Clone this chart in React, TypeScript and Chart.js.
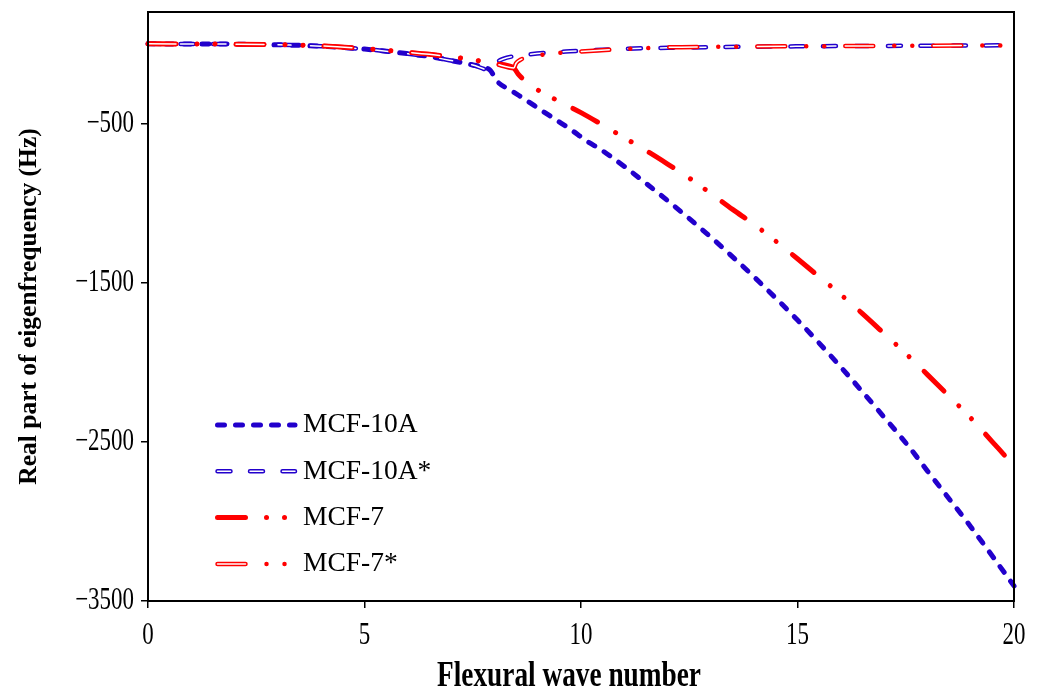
import React, { useEffect, useRef } from 'react';
import { Chart, registerables } from 'chart.js';

Chart.register(...registerables);

const BLUE = '#2200cc';
const RED = '#ff0000';

const seriesLabels = ['MCF-10A', 'MCF-10A*', 'MCF-7', 'MCF-7*'];
const xTitle = 'Flexural wave number';
const yTitle = 'Real part of eigenfrequency (Hz)';
const xTicks = [0, 5, 10, 15, 20];
const yTicks = [-3500, -2500, -1500, -500];

const k10A = [0, 1, 2, 3, 4, 5, 6, 6.5, 7, 7.5, 7.9, 8.05, 8.4, 8.75, 9.1, 9.45, 9.8, 10.1, 10.5, 11, 11.5, 12, 13, 14, 15, 15.5, 16, 17, 17.6, 18, 19, 20];
const mcf10A = [0, -1, -2, -6, -15, -33, -62, -80, -105, -133, -165, -232, -295, -357, -420, -482, -545, -605, -672, -770, -876, -985, -1215, -1465, -1735, -1880, -2030, -2345, -2540, -2683, -3033, -3405];

const k10AStar = [0, 1, 2, 3, 4, 5, 6, 6.5, 7, 7.5, 7.9, 7.95, 8.05, 8.2, 8.4, 8.8, 9.2, 9.75, 10.5, 11, 12, 13, 14, 16, 18, 20];
const mcf10AStar = [0, -1, -2, -6, -15, -33, -62, -80, -105, -133, -165, -140, -115, -95, -80, -66, -56, -47, -37, -31, -25, -21, -18, -14, -12, -9];

const k7 = [0, 1, 2, 3, 4, 5, 6, 6.5, 7, 7.5, 8, 8.45, 8.55, 8.7, 9, 9.5, 10, 10.5, 11, 11.5, 12, 12.5, 13, 13.5, 14, 14.5, 15, 15.5, 16, 16.5, 17, 17.5, 18, 18.5, 19, 19.5, 20];
const mcf7 = [0, -1, -2, -5, -13, -30, -53, -66, -82, -100, -125, -152, -190, -230, -289, -362, -432, -510, -590, -670, -755, -843, -940, -1040, -1135, -1240, -1350, -1463, -1575, -1695, -1820, -1945, -2078, -2213, -2350, -2500, -2650];

const k7Star = [0, 1, 2, 3, 4, 5, 6, 6.5, 7, 7.5, 8, 8.45, 8.5, 8.6, 8.75, 9.1, 9.5, 10, 10.7, 11.5, 12, 13, 14, 16, 18, 20];
const mcf7Star = [0, -1, -2, -5, -13, -30, -53, -66, -82, -100, -125, -152, -122, -100, -86, -69, -57, -48, -37, -27, -22, -19, -17, -14, -12, -10];

const toPts = (xs: number[], ys: number[]) => xs.map((x, i) => ({ x, y: ys[i] }));

const DASH_10A = [7, 11];
const DASH_10A_STAR = [13, 19.5];
const DASH_7 = [28, 21, 0.01, 18, 0.01, 21];
const DASH_7_INNER = [28, 60.02];

const fmt = (v: number) => (v < 0 ? '\u2212' + Math.abs(v) : String(v));

function drawScaledText(ctx: CanvasRenderingContext2D, text: string, x: number, y: number, font: string, sx: number, align: CanvasTextAlign, rot = 0) {
  ctx.save();
  ctx.translate(x, y);
  if (rot) ctx.rotate(rot);
  ctx.scale(sx, 1);
  ctx.font = font;
  ctx.fillStyle = '#000';
  ctx.textAlign = align;
  ctx.textBaseline = 'middle';
  ctx.fillText(text, 0, 0);
  ctx.restore();
}

const decorPlugin = {
  id: 'decor',
  afterDraw(chart: any) {
    const ctx: CanvasRenderingContext2D = chart.ctx;
    const { left, right, top, bottom } = chart.chartArea;
    ctx.save();
    ctx.strokeStyle = '#000';
    ctx.lineWidth = 2;
    ctx.strokeRect(left, top, right - left, bottom - top);
    ctx.restore();

    const xs = chart.scales.x;
    const ys = chart.scales.y;
    const tickFont = '31px "Liberation Serif"';
    xTicks.forEach((v) => {
      drawScaledText(ctx, fmt(v), xs.getPixelForValue(v), bottom + 35, tickFont, 0.74, 'center');
    });
    yTicks.forEach((v) => {
      drawScaledText(ctx, fmt(v), left - 14, ys.getPixelForValue(v), tickFont, 0.74, 'right');
    });
    drawScaledText(ctx, xTitle, left + 421, bottom + 76, 'bold 35px "Liberation Serif"', 0.78, 'center');
    drawScaledText(ctx, yTitle, 29, (top + bottom) / 2, 'bold 25.5px "Liberation Serif"', 1, 'center', -Math.PI / 2);

    const groups = [[0], [1, 2], [3], [4, 5]];
    const lx0 = left + 69.5;
    const lx1 = left + 147;
    groups.forEach((g, i) => {
      const y = top + 413 + i * 46.3;
      g.forEach((di) => {
        const ds = chart.data.datasets[di];
        ctx.save();
        ctx.strokeStyle = ds.borderColor;
        ctx.lineWidth = ds.borderWidth;
        ctx.lineCap = 'round';
        ctx.setLineDash(ds.borderDash);
        ctx.beginPath();
        ctx.moveTo(lx0, y);
        ctx.lineTo(lx1, y);
        ctx.stroke();
        ctx.restore();
      });
      drawScaledText(ctx, seriesLabels[i], left + 155, y, '27.5px "Liberation Serif"', 1, 'left');
    });
  },
};

export default function App() {
  const ref = useRef<HTMLCanvasElement | null>(null);
  useEffect(() => {
    if (!ref.current) return;
    const common = {
      pointRadius: 0,
      pointHoverRadius: 0,
      fill: false,
      cubicInterpolationMode: 'monotone' as const,
      borderCapStyle: 'round' as const,
      borderJoinStyle: 'round' as const,
      clip: 4,
    };
    const chart = new Chart(ref.current, {
      type: 'line',
      data: {
        datasets: [
          { ...common, label: seriesLabels[0], data: toPts(k10A, mcf10A), borderColor: BLUE, borderWidth: 5, borderDash: DASH_10A, order: 6 },
          { ...common, label: seriesLabels[1], data: toPts(k10AStar, mcf10AStar), borderColor: BLUE, borderWidth: 4.5, borderDash: DASH_10A_STAR, order: 5 },
          { ...common, label: seriesLabels[1] + ' inner', data: toPts(k10AStar, mcf10AStar), borderColor: '#ffffff', borderWidth: 1.5, borderDash: DASH_10A_STAR, order: 4 },
          { ...common, label: seriesLabels[2], data: toPts(k7, mcf7), borderColor: RED, borderWidth: 5, borderDash: DASH_7, order: 3 },
          { ...common, label: seriesLabels[3], data: toPts(k7Star, mcf7Star), borderColor: RED, borderWidth: 4.5, borderDash: DASH_7, order: 2 },
          { ...common, label: seriesLabels[3] + ' inner', data: toPts(k7Star, mcf7Star), borderColor: '#ffffff', borderWidth: 1.5, borderDash: DASH_7_INNER, order: 1 },
        ],
      },
      options: {
        responsive: false,
        animation: false,
        devicePixelRatio: 1,
        layout: { padding: { left: 0, top: 12, right: 30, bottom: 0 } },
        plugins: { legend: { display: false }, tooltip: { enabled: false } },
        events: [],
        scales: {
          x: {
            type: 'linear',
            min: 0,
            max: 20,
            afterBuildTicks: (s: any) => { s.ticks = xTicks.map((v) => ({ value: v })); },
            afterFit: (s: any) => { s.height = 90; },
            ticks: { display: false },
            grid: { drawOnChartArea: false, drawTicks: true, tickLength: 7, color: '#000', lineWidth: 1.5 },
            border: { display: false },
          },
          y: {
            type: 'linear',
            min: -3500,
            max: 200,
            afterBuildTicks: (s: any) => { s.ticks = yTicks.map((v) => ({ value: v })); },
            afterFit: (s: any) => { s.width = 148; },
            ticks: { display: false },
            grid: { drawOnChartArea: false, drawTicks: true, tickLength: 7, color: '#000', lineWidth: 1.5 },
            border: { display: false },
          },
        },
      },
      plugins: [decorPlugin],
    } as any);
    return () => chart.destroy();
  }, []);
  return (
    <div style={{ position: 'absolute', left: 0, top: 0, width: 1044, height: 691, background: '#fff' }}>
      <canvas ref={ref} width={1044} height={691} style={{ display: 'block' }} />
    </div>
  );
}
